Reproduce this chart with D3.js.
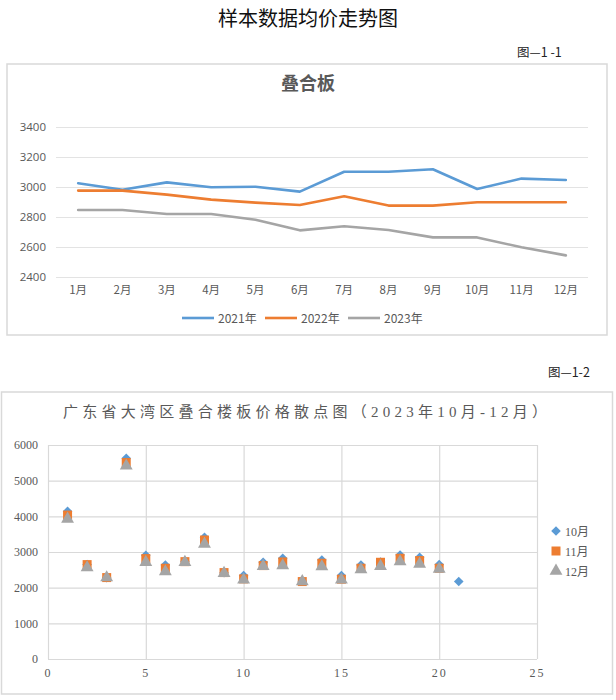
<!DOCTYPE html>
<html>
<head>
<meta charset="utf-8">
<script src="https://cdn.jsdelivr.net/npm/d3@7"></script>
<style>
  body { margin: 0; background: #fff; }
  svg { display: block; }
</style>
</head>
<body>
<div id="chart"></div>
<script>
// data
const months = ['1月','2月','3月','4月','5月','6月','7月','8月','9月','10月','11月','12月'];
const years = ['2021年','2022年','2023年'];
const price2021 = [3025,2982,3031,2998,3002,2969,3102,3102,3118,2987,3056,3047];
const price2022 = [2976,2976,2949,2916,2896,2880,2938,2876,2876,2898,2898,2898];
const price2023 = [2847,2847,2820,2820,2782,2711,2738,2713,2664,2664,2598,2544];
const lineTicks = [2400,2600,2800,3000,3200,3400];

const scatterSeries = ['10月','11月','12月'];
const sampleIds = d3.range(1,22);
const oct = [4140,2650,2280,5630,2908,2637,2740,3411,2420,2339,2712,2824,2180,2777,2339,2637,2720,2917,2852,2647,2171];
const nov = [4035,2647,2283,5508,2815,2544,2730,3336,2423,2246,2619,2721,2171,2684,2237,2544,2712,2824,2759,2544];
const dec = [3925,2563,2283,5415,2712,2451,2712,3224,2404,2218,2600,2619,2171,2591,2218,2507,2600,2731,2665,2526];
const scatterYTicks = [0,1000,2000,3000,4000,5000,6000];
const scatterXTicks = [0,5,10,15,20,25];

const colors = ['#5b9bd5','#ed7d31','#a5a5a5'];
const grid = '#d9d9d9';
const textCol = '#595959';
const cjk = '"Noto Sans CJK SC", sans-serif';
const serif = '"Liberation Serif", "Noto Sans CJK SC", serif';

const svg = d3.select('#chart').append('svg')
  .attr('width',616).attr('height',700);

// page titles
svg.append('text')
  .attr('x',308).attr('y',26)
  .attr('text-anchor','middle')
  .style('font-family',cjk).style('font-size','20px').style('fill','#111')
  .text('样本数据均价走势图');

svg.append('text')
  .attr('x',517).attr('y',57)
  .style('font-family',cjk).style('font-size','12.5px').style('fill','#222')
  .text('图—1 -1');

svg.append('text')
  .attr('x',548).attr('y',377)
  .style('font-family',cjk).style('font-size','12.5px').style('fill','#222')
  .text('图—1-2');

//Top line chart
const lineChart = svg.append('g');
lineChart.append('rect')
  .attr('x',7).attr('y',64).attr('width',600).attr('height',271)
  .attr('fill','#fff').attr('stroke',grid).attr('stroke-width',1.5);

lineChart.append('text')
  .attr('x',308).attr('y',90)
  .attr('text-anchor','middle')
  .style('font-family',cjk).style('font-size','18px').style('font-weight','bold').style('fill',textCol)
  .text('叠合板');

const scaleX = d3.scaleBand().domain(months).range([56,588]);
const scaleY = d3.scaleLinear().domain([2400,3400]).range([277,127]);

const axisY = d3.axisLeft(scaleY)
  .tickValues(lineTicks)
  .tickSize(-(588-56))
  .tickPadding(10)
  .tickFormat(d3.format('d'));
const axisYNode = lineChart.append('g')
  .attr('transform','translate(56,0)')
  .call(axisY);
axisYNode.select('.domain').remove();
axisYNode.selectAll('line').style('stroke','#e3e3e3').style('stroke-width',1);
axisYNode.selectAll('text')
  .style('font-family','"Open Sans", sans-serif').style('font-size','11.5px').style('fill',textCol);

const axisX = d3.axisBottom(scaleX).tickSize(0).tickPadding(9);
const axisXNode = lineChart.append('g')
  .attr('transform','translate(0,277)')
  .call(axisX);
axisXNode.select('.domain').remove();
axisXNode.selectAll('text')
  .style('font-family',cjk).style('font-size','11.5px').style('fill',textCol);

const line = d3.line()
  .x((d,i) => scaleX(months[i]) + scaleX.bandwidth()/2)
  .y(d => scaleY(d));

[price2021,price2022,price2023].forEach((s,i) => {
  lineChart.append('path')
    .datum(s)
    .attr('d',line)
    .attr('fill','none')
    .attr('stroke',colors[i])
    .attr('stroke-width',2.6)
    .attr('stroke-linejoin','round')
    .attr('stroke-linecap','round');
});

const legend = lineChart.selectAll('.legend-item')
  .data(years)
  .enter()
  .append('g')
  .attr('class','legend-item')
  .attr('transform',(d,i) => `translate(${182 + i*83},318)`);
legend.append('line')
  .attr('x1',0).attr('x2',32).attr('y1',0).attr('y2',0)
  .attr('stroke',(d,i) => colors[i]).attr('stroke-width',2.6);
legend.append('text')
  .attr('x',36).attr('y',4.5)
  .style('font-family',cjk).style('font-size','12px').style('fill',textCol)
  .text(d => d);

//Bottom scatter chart
const scatter = svg.append('g');
scatter.append('rect')
  .attr('x',1.5).attr('y',392).attr('width',611).attr('height',302)
  .attr('fill','#fff').attr('stroke',grid).attr('stroke-width',1.5);

scatter.append('text')
  .attr('x',63).attr('y',417)
  .attr('textLength',484).attr('lengthAdjust','spacing')
  .style('font-family',serif).style('font-size','15px').style('fill',textCol)
  .text('广东省大湾区叠合楼板价格散点图（2023年10月-12月）');

const sx = d3.scaleLinear().domain([0,25]).range([48,537]);
const sy = d3.scaleLinear().domain([0,6000]).range([659,445]);

const gy = scatter.append('g')
  .attr('transform','translate(48,0)')
  .call(d3.axisLeft(sy).tickValues(scatterYTicks).tickSize(-(537-48)).tickPadding(10).tickFormat(d3.format('d')));
gy.select('.domain').remove();
gy.selectAll('line').style('stroke',grid).style('stroke-width',1.2);
gy.selectAll('text').style('font-family',serif).style('font-size','12px').style('fill',textCol);

const gx = scatter.append('g')
  .attr('transform','translate(0,659)')
  .call(d3.axisBottom(sx).tickValues(scatterXTicks).tickSize(-(659-445)).tickPadding(9).tickFormat(d3.format('d')));
gx.select('.domain').remove();
gx.selectAll('line').style('stroke',grid).style('stroke-width',1.2);
gx.selectAll('text').style('font-family',serif).style('font-size','12px').style('fill',textCol)
  .style('letter-spacing','2px');

// marker shapes per series: diamond is a square turned 45deg
const markerType = [d3.symbolSquare, d3.symbolSquare, d3.symbolTriangle];
const markerSize = [46,81,72];
const markerRot = [45,0,0];

[oct,nov,dec].forEach((vals,i) => {
  scatter.append('g').selectAll('path')
    .data(vals)
    .enter()
    .append('path')
    .attr('transform',(d,j) => `translate(${sx(sampleIds[j])},${sy(d)}) rotate(${markerRot[i]})`)
    .attr('d',d3.symbol().type(markerType[i]).size(markerSize[i]))
    .attr('fill',colors[i]);
});

const sLegend = scatter.selectAll('.s-legend')
  .data(scatterSeries)
  .enter()
  .append('g')
  .attr('class','s-legend')
  .attr('transform',(d,i) => `translate(556,${531 + i*20})`);
sLegend.append('path')
  .attr('d',(d,i) => d3.symbol().type(markerType[i]).size(markerSize[i])())
  .attr('transform',(d,i) => `rotate(${markerRot[i]})`)
  .attr('fill',(d,i) => colors[i]);
sLegend.append('text')
  .attr('x',9).attr('y',5)
  .style('font-family',serif).style('font-size','12px').style('fill',textCol)
  .text(d => d);
</script>
</body>
</html>
